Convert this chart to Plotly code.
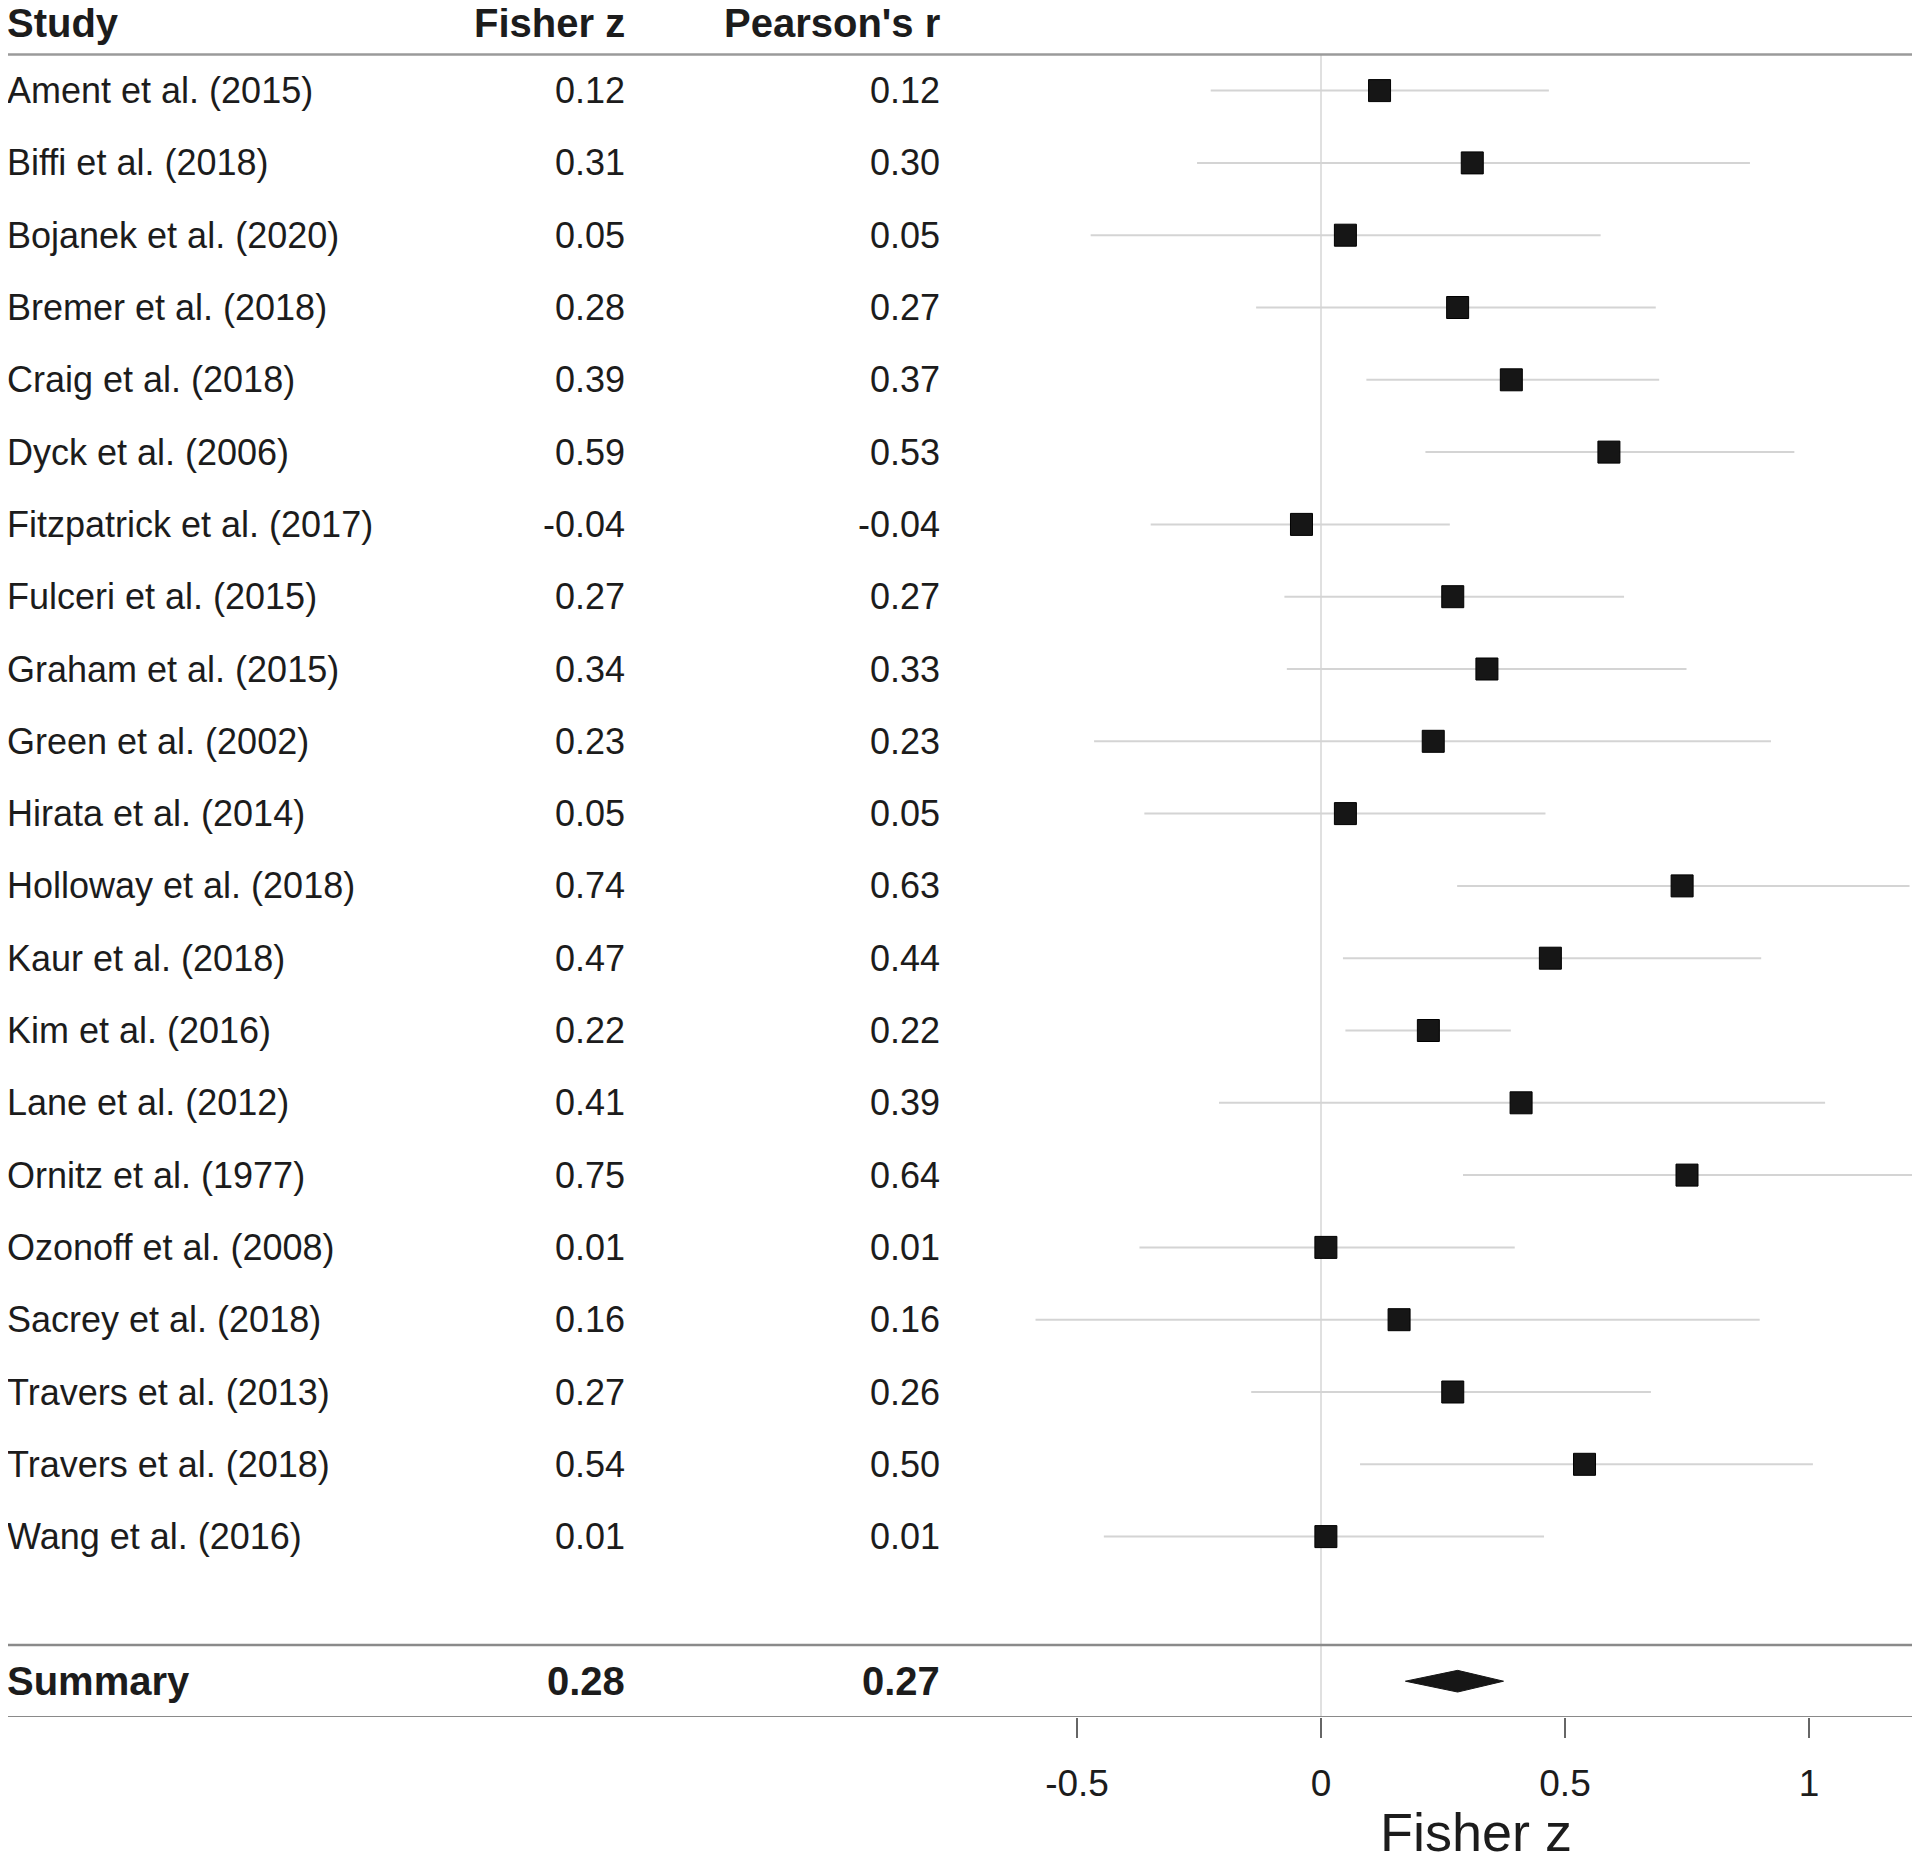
import plotly.graph_objects as go

# forest plot data
studies = ["Ament et al. (2015)", "Biffi et al. (2018)", "Bojanek et al. (2020)",
           "Bremer et al. (2018)", "Craig et al. (2018)", "Dyck et al. (2006)",
           "Fitzpatrick et al. (2017)", "Fulceri et al. (2015)", "Graham et al. (2015)",
           "Green et al. (2002)", "Hirata et al. (2014)", "Holloway et al. (2018)",
           "Kaur et al. (2018)", "Kim et al. (2016)", "Lane et al. (2012)",
           "Ornitz et al. (1977)", "Ozonoff et al. (2008)", "Sacrey et al. (2018)",
           "Travers et al. (2013)", "Travers et al. (2018)", "Wang et al. (2016)"]
fisher_z = [0.12, 0.31, 0.05, 0.28, 0.39, 0.59, -0.04, 0.27, 0.34, 0.23, 0.05,
            0.74, 0.47, 0.22, 0.41, 0.75, 0.01, 0.16, 0.27, 0.54, 0.01]
pearson_r = [0.12, 0.30, 0.05, 0.27, 0.37, 0.53, -0.04, 0.27, 0.33, 0.23, 0.05,
             0.63, 0.44, 0.22, 0.39, 0.64, 0.01, 0.16, 0.26, 0.50, 0.01]
ci_lower = [-0.226, -0.254, -0.472, -0.133, 0.093, 0.214, -0.349, -0.075, -0.070,
            -0.465, -0.362, 0.279, 0.045, 0.050, -0.209, 0.291, -0.372, -0.585,
            -0.143, 0.080, -0.445]
ci_upper = [0.467, 0.879, 0.573, 0.686, 0.693, 0.970, 0.264, 0.621, 0.749, 0.922,
            0.460, 1.206, 0.902, 0.389, 1.033, 1.219, 0.397, 0.899, 0.676, 1.008,
            0.457]
summary_z = 0.28
summary_r = 0.27
summary_lo = 0.173
summary_hi = 0.374
tick_vals = [-0.5, 0, 0.5, 1]
tick_text = ["-0.5", "0", "0.5", "1"]

FONT = "Liberation Sans, Arial, sans-serif"
# page body has an 8px margin, so the figure is a bit smaller than the window
W, H = 1912, 1849
PLOT_W = 1908
ZERO_PX, UNIT_PX = 1313, 488
ROW0_PX, ROW_PX = 82.6, 72.3
PLOT_BOTTOM = 1709

rows = list(range(1, len(studies) + 1))
summary_row = len(studies) + 2

fig = go.Figure()

# confidence intervals + point estimates
fig.add_trace(go.Scatter(
    x=fisher_z, y=rows, mode="markers",
    marker=dict(symbol="square", size=22, color="#161616",
                line=dict(width=1, color="#000000")),
    error_x=dict(type="data", symmetric=False,
                 array=[u - z for u, z in zip(ci_upper, fisher_z)],
                 arrayminus=[z - l for l, z in zip(ci_lower, fisher_z)],
                 width=0, thickness=2, color="#d4d4d4"),
    hoverinfo="skip", showlegend=False))

# summary diamond
dh = 0.15
fig.add_trace(go.Scatter(
    x=[summary_lo, summary_z, summary_hi, summary_z, summary_lo],
    y=[summary_row, summary_row - dh, summary_row, summary_row + dh, summary_row],
    mode="lines", fill="toself", fillcolor="#161616",
    line=dict(color="#161616", width=1), hoverinfo="skip", showlegend=False))

# reference line at zero
fig.add_shape(type="line", xref="x", yref="y", x0=0, x1=0, y0=0.5,
              y1=summary_row + 0.5, line=dict(color="#e0e0e0", width=2), layer="below")

# horizontal separators
for yy, col in [(0.5, "#9a9a9a"), (summary_row - 0.5, "#8a8a8a"),
                (summary_row + 0.5, "#8a8a8a")]:
    fig.add_shape(type="line", xref="paper", yref="y", x0=0, x1=1,
                  y0=yy, y1=yy, line=dict(color=col, width=2.5))

col_study = -3 / PLOT_W
col_z = 619 / PLOT_W
col_r = 934 / PLOT_W


def label(x, y, text, anchor, bold=False):
    font = dict(family=FONT, size=40 if bold else 36, color="#1c1c1c")
    fig.add_annotation(x=x, y=y, xref="paper", yref="y",
                       text=f"<b>{text}</b>" if bold else text,
                       showarrow=False, xanchor=anchor, yanchor="middle", font=font)


label(col_study, 0.07, "Study", "left", True)
label(col_z, 0.07, "Fisher z", "right", True)
label(col_r, 0.07, "Pearson's r", "right", True)
for r, s, z, p in zip(rows, studies, fisher_z, pearson_r):
    label(col_study, r, s, "left")
    label(col_z, r, f"{z:.2f}", "right")
    label(col_r, r, f"{p:.2f}", "right")
label(col_study, summary_row, "Summary", "left", True)
label(col_z, summary_row, f"{summary_z:.2f}", "right", True)
label(col_r, summary_row, f"{summary_r:.2f}", "right", True)

# axis title
fig.add_annotation(x=0.318, y=1 - 1824 / PLOT_BOTTOM, xref="x", yref="paper",
                   text="Fisher z", showarrow=False,
                   font=dict(family=FONT, size=54, color="#1c1c1c"),
                   xanchor="center", yanchor="middle")

x_lo = -0.7
x_hi = (PLOT_W - ZERO_PX) / UNIT_PX
dom0 = (ZERO_PX + x_lo * UNIT_PX) / PLOT_W
y_top = 1 - ROW0_PX / ROW_PX
y_bot = 1 + (PLOT_BOTTOM - ROW0_PX) / ROW_PX

fig.update_layout(
    width=W, height=H,
    margin=dict(l=0, r=W - PLOT_W, t=0, b=H - PLOT_BOTTOM),
    paper_bgcolor="white", plot_bgcolor="white",
    xaxis=dict(domain=[dom0, 1], range=[x_lo, x_hi], showgrid=False, zeroline=False,
               showline=False, ticks="outside", ticklen=20, tickwidth=2,
               tickcolor="#666666", tickvals=tick_vals, ticktext=tick_text,
               tickfont=dict(family=FONT, size=37, color="#1c1c1c"),
               ticklabelstandoff=14),
    yaxis=dict(range=[y_bot, y_top], visible=False),
)

fig.write_html("out.html")
